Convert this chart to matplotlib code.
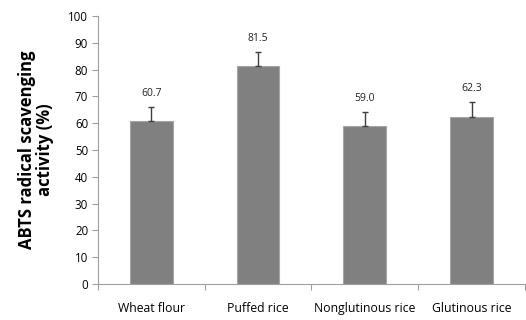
import matplotlib
matplotlib.use("Agg")
import matplotlib.pyplot as plt
import numpy as np

categories = ["Wheat flour", "Puffed rice", "Nonglutinous rice", "Glutinous rice"]
values = [60.7, 81.5, 59.0, 62.3]
errors = [5.3, 5.2, 5.1, 5.5]
value_labels = ["60.7", "81.5", "59.0", "62.3"]

plt.rcParams['font.family'] = ['Open Sans', 'DejaVu Sans']

fig = plt.figure(figsize=(5.26, 3.2), dpi=100)
ax = fig.add_axes([0.186, 0.1125, 0.812, 0.8375])

x = np.arange(len(categories))
ax.bar(x, values, width=0.4, color="#808080", edgecolor="#a6a6a6", linewidth=0.8, zorder=2)
ax.errorbar(x, values, yerr=[np.zeros(len(errors)), errors], fmt="none",
            ecolor="#404040", elinewidth=1.0, capsize=2.0, capthick=1.0, zorder=3)

for xi, v, e, lab in zip(x, values, errors, value_labels):
    ax.text(xi, v + e + 3.0, lab, ha="center", va="bottom", fontsize=7.5, color="#222222")

ax.set_xlim(-0.5, len(categories) - 0.5)
ax.set_ylim(0, 100)
ax.set_yticks(np.arange(0, 101, 10))
ax.set_xticks(x)
ax.set_xticklabels(categories, fontsize=8.8)
ax.set_xticks(np.arange(-0.5, len(categories), 1.0), minor=True)
ax.tick_params(axis="x", which="major", length=0, pad=13)
ax.tick_params(axis="x", which="minor", length=4, width=0.8, color="#a0a0a0", direction="out")
ax.tick_params(axis="y", length=4, width=0.8, color="#a0a0a0", labelsize=8.3, pad=3)

for s in ["top", "right"]:
    ax.spines[s].set_visible(False)
for s in ["left", "bottom"]:
    ax.spines[s].set_color("#a0a0a0")
    ax.spines[s].set_linewidth(0.8)

ax.set_ylabel("ABTS radical scavenging\nactivity (%)", fontsize=12, fontweight="bold",
              labelpad=10, linespacing=1.05)

fig.savefig("out.png", dpi=100)
